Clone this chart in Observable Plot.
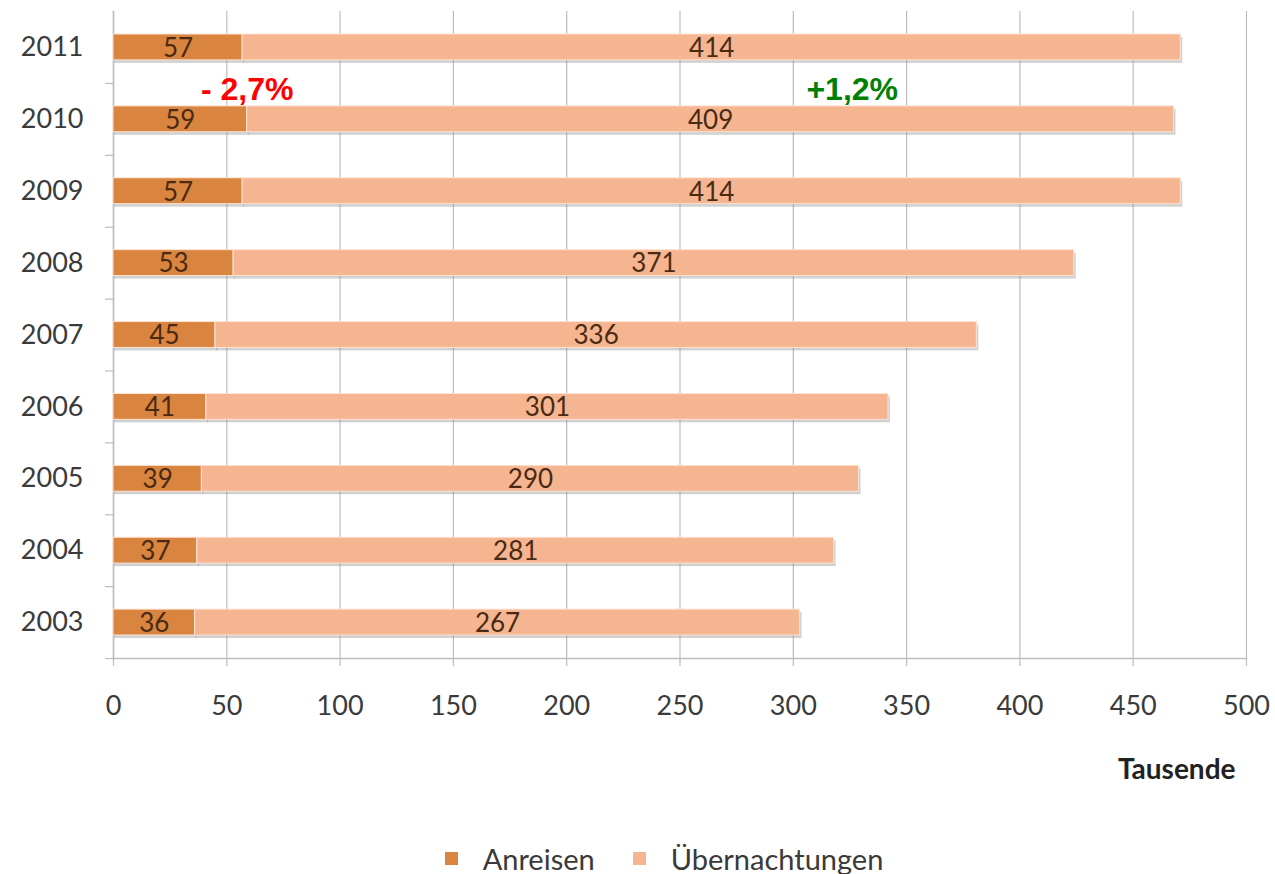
<!DOCTYPE html>
<html>
<head>
<meta charset="utf-8">
<script src="https://cdn.jsdelivr.net/npm/d3@7"></script>
<script src="https://cdn.jsdelivr.net/npm/@observablehq/plot@0.6"></script>
<style>
  html, body { margin: 0; padding: 0; background: #fff; }
  #chart { width: 1275px; }
  #legend { width: 1275px; height: 44px; display: flex; justify-content: center; align-items: center; gap: 38px;
            font-family: Lato, "Open Sans", sans-serif; font-size: 29px; color: #3a3a3a; padding-left: 53px; padding-top: 12px; box-sizing: border-box; }
  #legend .item { display: flex; align-items: center; gap: 25px; }
  #legend .sw { width: 13px; height: 13px; display: inline-block; }
</style>
</head>
<body>
<div id="chart"></div>
<div id="legend"></div>
<script>
const years = ["2003","2004","2005","2006","2007","2008","2009","2010","2011"];
const anreisen = [36,37,39,41,45,53,57,59,57];
const uebernachtungen = [267,281,290,301,336,371,414,409,414];
const seriesNames = ["Anreisen","Übernachtungen"];
const seriesColors = ["#D9843F","#F6B591"];
const xTicks = [0,50,100,150,200,250,300,350,400,450,500];
const notes = [
  {label: "- 2,7%", year: "2010", x: 59, color: "#FF0000"},
  {label: "+1,2%", year: "2010", x: 326, color: "#008000"}
];

const rows = [];
years.forEach((y, i) => {
  rows.push({year: y, series: seriesNames[0], value: anreisen[i]});
  rows.push({year: y, series: seriesNames[1], value: uebernachtungen[i]});
});

const font = "Lato, 'Open Sans', sans-serif";

const chart = Plot.plot({
  width: 1275,
  height: 830,
  marginLeft: 113,
  marginRight: 29,
  marginTop: 11,
  marginBottom: 172,
  style: {fontFamily: font, fontSize: "27px", color: "#3a3a3a", background: "#fff"},
  x: {domain: [0, 500]},
  y: {type: "band", domain: years.slice().reverse(), paddingInner: 0.64, paddingOuter: 0.32, round: false},
  color: {domain: seriesNames, range: seriesColors},
  marks: [
    Plot.gridX(xTicks, {stroke: "#BDBDBD", strokeOpacity: 1, strokeWidth: 1.2}),
    Plot.axisX({ticks: xTicks, tickSize: 8, tickPadding: 29, stroke: "#BDBDBD", strokeWidth: 1.2, label: null, fill: "#3a3a3a", fontSize: 27}),
    Plot.axisY({tickSize: 0, tickPadding: 30, label: null, fill: "#3a3a3a", fontSize: 27}),
    Plot.axisY({tickSize: 8, text: null, label: null, dy: 36, stroke: "#BDBDBD", strokeWidth: 1.2}),
    Plot.frame({anchor: "bottom", stroke: "#BDBDBD", strokeWidth: 1.5}),
    Plot.frame({anchor: "left", stroke: "#BDBDBD", strokeWidth: 1.5}),
    // shadow
    Plot.barX(rows, Plot.stackX({y: "year", x: "value", fill: "#7a7a7a", fillOpacity: 0.35, dx: 2, dy: 3, insetLeft: -1})),
    Plot.barX(rows, Plot.stackX({y: "year", x: "value", fill: "series", stroke: "#FBE3D3", strokeWidth: 1})),
    Plot.textX(rows, Plot.stackX({y: "year", x: "value", text: "value", fill: "#4A2A12", fontSize: 26, dy: 1})),
    Plot.text(notes, {x: "x", y: "year", text: "label", fill: "color", dy: -30,
      fontFamily: "'Liberation Sans', Arial, sans-serif", fontWeight: "bold", fontSize: 32}),
    Plot.text(["Tausende"], {frameAnchor: "bottom-right", text: d => d, textAnchor: "end", dy: 120, dx: -11,
      fontWeight: "bold", fontSize: 28, fill: "#222"})
  ]
});
document.getElementById("chart").appendChild(chart);

const legend = document.getElementById("legend");
seriesNames.forEach((s, i) => {
  const item = document.createElement("div");
  item.className = "item";
  const sw = document.createElement("span");
  sw.className = "sw";
  sw.style.background = seriesColors[i];
  const t = document.createElement("span");
  t.textContent = s;
  item.appendChild(sw);
  item.appendChild(t);
  legend.appendChild(item);
});
</script>
</body>
</html>
